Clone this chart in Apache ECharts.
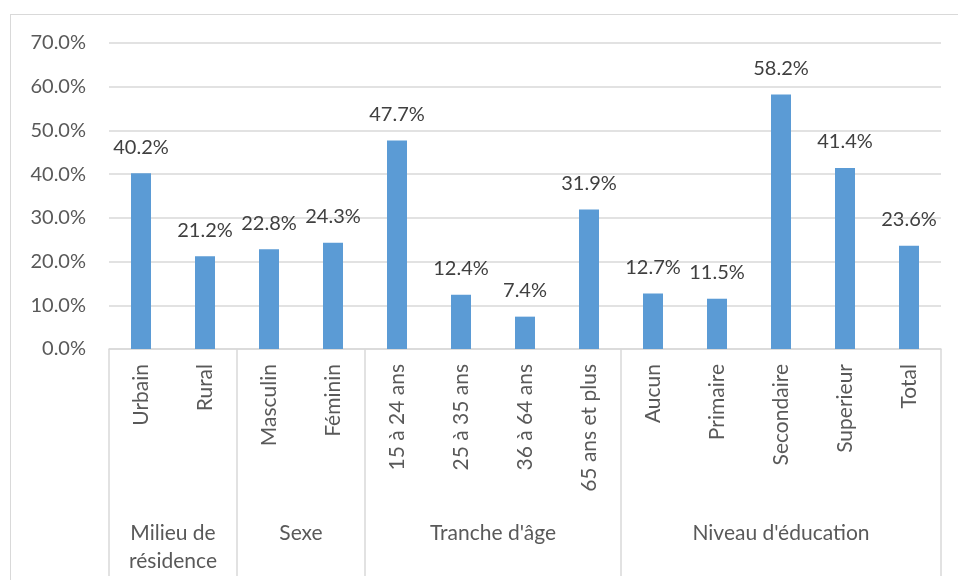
<!DOCTYPE html>
<html>
<head>
<meta charset="utf-8">
<script src="https://cdn.jsdelivr.net/npm/echarts@6/dist/echarts.min.js"></script>
<style>
  html, body { margin: 0; padding: 0; background: #fff; overflow: hidden; }
  #frame { position: absolute; left: 10px; top: 14px; width: 980px; height: 600px; border: 1.5px solid #d9d9d9; }
  #chartmain { position: absolute; left: 0; top: 0; width: 958px; height: 580px; }
</style>
</head>
<body>
<div id="frame"></div>
<div id="chartmain"></div>
<script>
// categories and values (%)
var categories = ['Urbain', 'Rural', 'Masculin', 'Féminin', '15 à 24 ans', '25 à 35 ans',
    '36 à 64 ans', '65 ans et plus', 'Aucun', 'Primaire', 'Secondaire', 'Superieur', 'Total'];
var values = [40.2, 21.2, 22.8, 24.3, 47.7, 12.4, 7.4, 31.9, 12.7, 11.5, 58.2, 41.4, 23.6];
// groups: name and number of categories
var groupNames = ['Milieu de\nrésidence', 'Sexe', "Tranche d'âge", "Niveau d'éducation"];
var groupSizes = [2, 2, 4, 5];
var yTicks = [0, 10, 20, 30, 40, 50, 60, 70];

function setChartMain() {
    var font = 'Lato, "Open Sans", sans-serif';
    // index of first category in each group, and group centers
    var starts = [];
    var centers = [];
    var pos = 0;
    for (var i = 0; i < groupSizes.length; i++) {
        starts.push(pos);
        centers.push(pos + groupSizes[i] / 2);
        pos += groupSizes[i];
    }
    var option = {
        animation: false,
        grid: { left: 109, right: 17, top: 43, bottom: 231 },
        xAxis: [{
            type: 'category',
            data: categories,
            axisLine: { lineStyle: { color: '#d9d9d9', width: 1.5 } },
            axisTick: {
                show: true,
                length: 227,
                lineStyle: { color: '#d9d9d9', width: 1.5 },
                interval: function (idx) {
                    return starts.indexOf(idx) >= 0;
                }
            },
            axisLabel: {
                interval: 0,
                rotate: 90,
                margin: 15,
                color: '#595959',
                fontFamily: font,
                fontSize: 21
            }
        }, {
            type: 'value',
            position: 'bottom',
            min: 0,
            max: pos,
            axisLine: { show: false },
            axisTick: { show: false },
            splitLine: { show: false },
            axisLabel: {
                customValues: centers,
                margin: 170,
                color: '#595959',
                fontFamily: font,
                fontSize: 21,
                lineHeight: 28,
                formatter: function (v) {
                    var k = centers.indexOf(v);
                    return k >= 0 ? groupNames[k] : '';
                }
            }
        }],
        yAxis: {
            type: 'value',
            min: yTicks[0],
            max: yTicks[yTicks.length - 1],
            interval: yTicks[1] - yTicks[0],
            axisLine: { show: false },
            axisTick: { show: false },
            splitLine: { lineStyle: { color: '#d9d9d9', width: 1.5 } },
            axisLabel: {
                margin: 23,
                color: '#595959',
                fontFamily: font,
                fontSize: 20,
                formatter: function (v) { return v.toFixed(1) + '%'; }
            }
        },
        series: [{
            type: 'bar',
            data: values,
            barWidth: 20,
            itemStyle: { color: '#5b9bd5' },
            label: {
                show: true,
                position: 'top',
                distance: 16,
                color: '#404040',
                fontFamily: font,
                fontSize: 20,
                formatter: function (p) { return p.value.toFixed(1) + '%'; }
            }
        }]
    };
    var myChart = echarts.init(document.getElementById('chartmain'));
    myChart.setOption(option);
}
setChartMain();
</script>
</body>
</html>
